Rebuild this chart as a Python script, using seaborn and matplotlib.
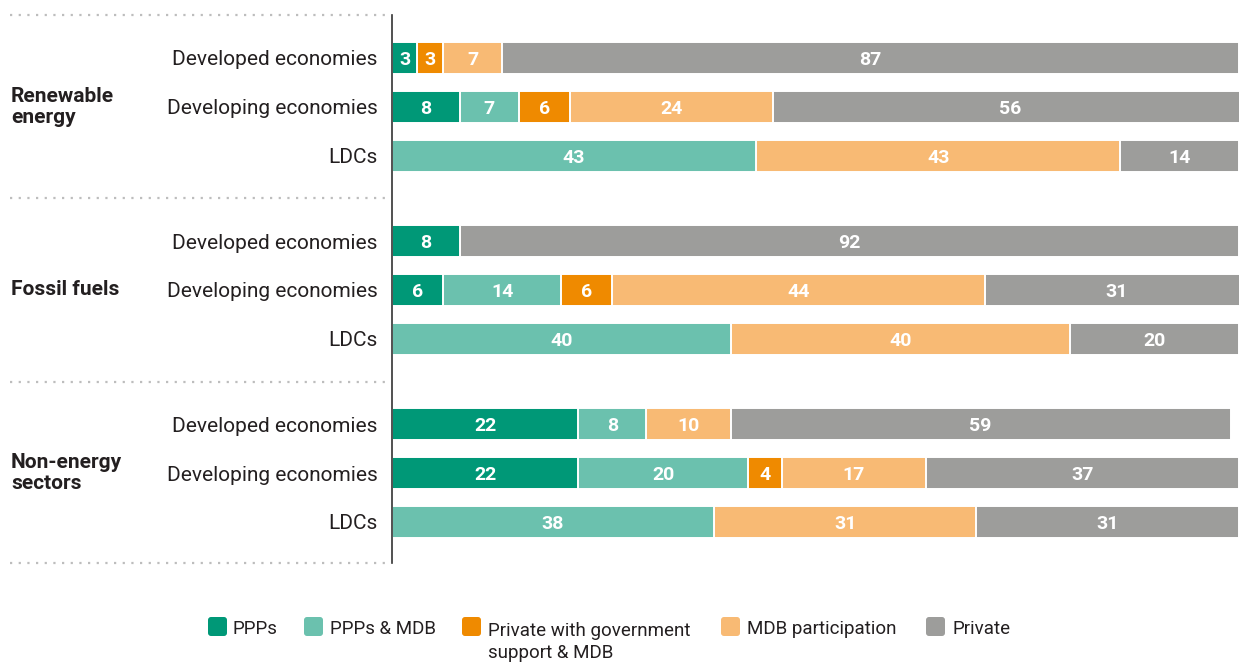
import numpy as np
import pandas as pd
import matplotlib
matplotlib.use("Agg")
import matplotlib.pyplot as plt
from matplotlib.patches import FancyBboxPatch
import seaborn as sns

# ---- data -------------------------------------------------------------
sectors = ["Renewable\nenergy", "Fossil fuels", "Non-energy\nsectors"]
economies = ["Developed economies", "Developing economies", "LDCs"]
series = ["PPPs", "PPPs & MDB", "Private with government\nsupport & MDB",
          "MDB participation", "Private"]
colors = ["#009877", "#6BC1AE", "#EF8A00", "#F8BA74", "#9D9D9B"]

# shares (%) per row: renewable (dev, developing, LDC), fossil (...), non-energy (...)
ppps        = [3, 8, 0,    8, 6, 0,     22, 22, 0]
ppps_mdb    = [0, 7, 43,   0, 14, 40,   8, 20, 38]
private_gov = [3, 6, 0,    0, 6, 0,     0, 4, 0]
mdb_part    = [7, 24, 43,  0, 44, 40,   10, 17, 31]
private     = [87, 56, 14, 92, 31, 20,  59, 37, 31]

# ---- style ------------------------------------------------------------
sns.set_theme(style="white")
plt.rcParams["font.family"] = ["Roboto", "DejaVu Sans"]
TEXT = "#231F20"

W, H = 1239, 662
fig = plt.figure(figsize=(W / 100, H / 100), dpi=100)
ax = fig.add_axes([392 / W, 1 - 563 / H, (W - 392) / W, (563 - 15) / H])

values = np.array([ppps, ppps_mdb, private_gov, mdb_part, private], dtype=float)
cum = np.cumsum(values, axis=0)

GROUP_STEP = 3.75
pos = np.array([g * GROUP_STEP + i for g in range(len(sectors)) for i in range(len(economies))])
row_labels = [e for _ in sectors for e in economies]

# stacked bars drawn as layered cumulative totals, longest first
for k in reversed(range(len(series))):
    df = pd.DataFrame({"total": cum[k], "pos": pos})
    sns.barplot(data=df, x="total", y="pos", orient="h", native_scale=True,
                color=colors[k], saturation=1, width=0.655, errorbar=None,
                edgecolor="white", linewidth=1.4, ax=ax)

# value labels inside the segments
for k in range(len(series)):
    for r in range(len(pos)):
        v = values[k, r]
        if v > 0:
            ax.text(cum[k, r] - v / 2, pos[r], f"{int(v)}", ha="center",
                    va="center_baseline", color="white", fontsize=14,
                    fontweight="bold")

ax.set_xlim(0, 100)
ax.set_ylim(10.34, -0.88)
ax.set_xlabel("")
ax.set_ylabel("")
ax.set_xticks([])
ax.set_yticks(pos, row_labels)
ax.tick_params(axis="y", length=0, pad=10.5, labelsize=15, labelcolor=TEXT)
for side in ["top", "right", "bottom"]:
    ax.spines[side].set_visible(False)
ax.spines["left"].set_color("#333333")
ax.spines["left"].set_linewidth(1.2)
ax.spines["left"].set_zorder(5)

# dotted separators between sector groups
ytr = ax.get_yaxis_transform()
for yb in [-0.88, 2.875, 2 * GROUP_STEP - 0.875, 10.34]:
    ax.plot([-0.451, -0.003], [yb, yb], transform=ytr, clip_on=False,
            color="#BDBDBD", lw=1.6, dashes=(1, 2.9))

# sector group labels
for g, name in enumerate(sectors):
    ax.text(-0.4498, g * GROUP_STEP + 1, name, transform=ytr, ha="left",
            va="center", fontsize=15, fontweight="bold", color=TEXT,
            linespacing=1.1)

# legend
legend_items = [(208, 233), (304, 330), (462, 488), (721, 747), (926, 952)]
for (sx, tx), name, c in zip(legend_items, series, colors):
    fig.add_artist(FancyBboxPatch((sx, H - 636), 19, 19,
                                  boxstyle="round,pad=0,rounding_size=3",
                                  facecolor=c, edgecolor="none",
                                  transform=None))
    n_lines = name.count("\n")
    fig.text(tx / W, 1 - (634 + 24 * n_lines) / H, name, ha="left",
             va="baseline", fontsize=13.5, color=TEXT, linespacing=1.3)

fig.savefig("out.png", dpi=100)
